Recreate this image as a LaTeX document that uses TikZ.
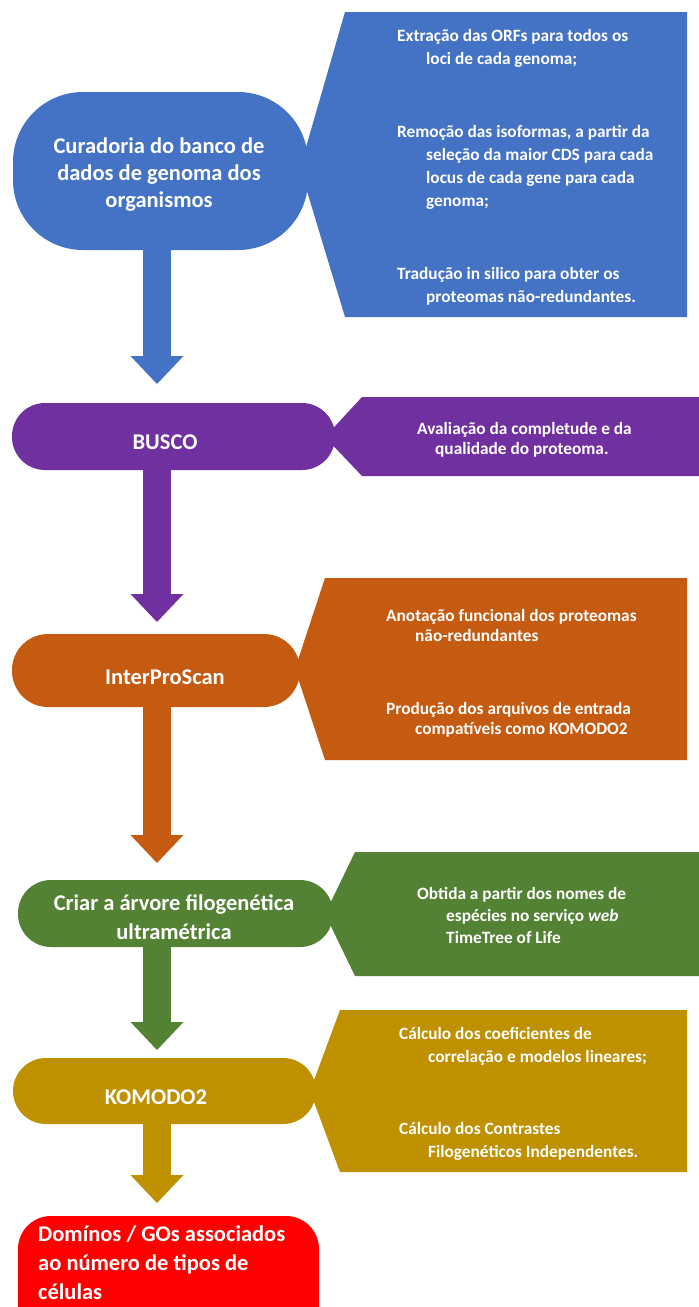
\documentclass[tikz,border=0pt]{standalone}
\usepackage{fontspec}
\setmainfont{Carlito}
\usetikzlibrary{arrows.meta,calc}
\definecolor{cblue}{HTML}{4472C4}
\definecolor{cpurple}{HTML}{7030A0}
\definecolor{corange}{HTML}{C55A11}
\definecolor{cgreen}{HTML}{548235}
\definecolor{cgold}{HTML}{BF9000}
\definecolor{cred}{HTML}{FF0000}
\begin{document}
\begin{tikzpicture}[x=1pt,y=-1pt,
  stage/.style={inner sep=0pt, outer sep=0pt, draw=none, rounded corners=33pt},
  maintext/.style={inner sep=0pt, text=white, align=center, font=\bfseries\fontsize{22.5}{#1}\selectfont},
  maintext/.default=27,
  ctext/.style={inner sep=0pt, text=white, align=left, anchor=west, font=\bfseries\fontsize{17.3}{#1}\selectfont},
  ctext/.default=23,
  flow/.style={line width=28pt, -{Triangle[width=53pt,length=28pt,line width=0pt]}}
]
\useasboundingbox (0,0) rectangle (699,1307);
\clip (0,0) rectangle (699,1307);
\coordinate (axis) at (157,0);

% ---------- callout shapes ----------
\fill[cblue]   (345,12) -- (687,12) -- (687,317) -- (345,317) -- (300,168) -- cycle;
\fill[cpurple] (362,397) -- (699,397) -- (699,476) -- (362,476) -- (325,437) -- cycle;
\fill[corange] (325,578) -- (687,578) -- (687,760) -- (325,760) -- (295,669) -- cycle;
\fill[cgreen]  (355,852) -- (699,852) -- (699,976) -- (355,976) -- (325,914) -- cycle;
\fill[cgold]   (340,1010) -- (687,1010) -- (687,1172) -- (340,1172) -- (310,1091) -- cycle;

% ---------- stage shapes ----------
\node[stage, fill=cblue, minimum width=295pt, minimum height=158pt, rounded corners=70pt] (curadoria) at (160.5,171) {};
\node[stage, fill=cpurple, minimum width=323pt, minimum height=67pt] (busco) at (173.5,436.5) {};
\node[stage, fill=corange, minimum width=288pt, minimum height=73pt, rounded corners=36pt] (interpro) at (156,670.5) {};
\node[stage, fill=cgreen, minimum width=315pt, minimum height=67pt] (arvore) at (175.5,913.5) {};
\node[stage, fill=cgold, minimum width=303pt, minimum height=66pt] (komodo) at (164.5,1091) {};
\node[stage, fill=cred, minimum width=301pt, minimum height=130pt] (dominios) at (168.5,1281) {};

% ---------- stage texts ----------
\node[maintext] (curadoria-t) at (159,175) {Curadoria do banco de\\dados de genoma dos\\organismos};
\node[maintext] (busco-t) at (165,442) {BUSCO};
\node[maintext] (interpro-t) at (165,677) {InterProScan};
\node[maintext=29] (arvore-t) at (174,917.5) {Criar a árvore filogenética\\ultramétrica};
\node[maintext] (komodo-t) at (156,1097) {KOMODO2};
\node[maintext=29, align=left, anchor=west] (dominios-t) at (38,1263) {Domínos / GOs associados\\ao número de tipos de\\células};

% ---------- callout texts ----------
\node[ctext] (b1) at (397,48.5) {Extração das ORFs para todos os\\\hspace*{29pt}loci de cada genoma;};
\node[ctext] (b2) at (397,167) {Remoção das isoformas, a partir da\\\hspace*{29pt}seleção da maior CDS para cada\\\hspace*{29pt}locus de cada gene para cada\\\hspace*{29pt}genoma;};
\node[ctext] (b3) at (397,286.5) {Tradução in silico para obter os\\\hspace*{29pt}proteomas não-redundantes.};
\node[ctext=20] (p1) at (417,440) {Avaliação da completude e da\\\hspace*{18pt}qualidade do proteoma.};
\node[ctext=20] (o1) at (386,625) {Anotação funcional dos proteomas\\\hspace*{29pt}não-redundantes};
\node[ctext=20] (o2) at (386,720) {Produção dos arquivos de entrada\\\hspace*{29pt}compatíveis como KOMODO2};
\node[ctext=22] (g1) at (417,915.5) {Obtida a partir dos nomes de\\\hspace*{29pt}espécies no serviço \textit{web}\\\hspace*{29pt}TimeTree of Life};
\node[ctext] (k1) at (399,1046.5) {Cálculo dos coeficientes de\\\hspace*{29pt}correlação e modelos lineares;};
\node[ctext] (k2) at (399,1141.5) {Cálculo dos Contrastes\\\hspace*{29pt}Filogenéticos Independentes.};

% ---------- flow arrows ----------
\draw[flow, cblue, shorten >=19pt]   (curadoria.south -| axis) -- (busco.north -| axis);
\draw[flow, cpurple, shorten >=12pt] (busco.south -| axis) -- (interpro.north -| axis);
\draw[flow, corange, shorten >=17pt] (interpro.south -| axis) -- (arvore.north -| axis);
\draw[flow, cgreen, shorten >=8pt]   (arvore.south -| axis) -- (komodo.north -| axis);
\draw[flow, cgold, shorten >=13pt]   (komodo.south -| axis) -- (dominios.north -| axis);
\end{tikzpicture}
\end{document}
